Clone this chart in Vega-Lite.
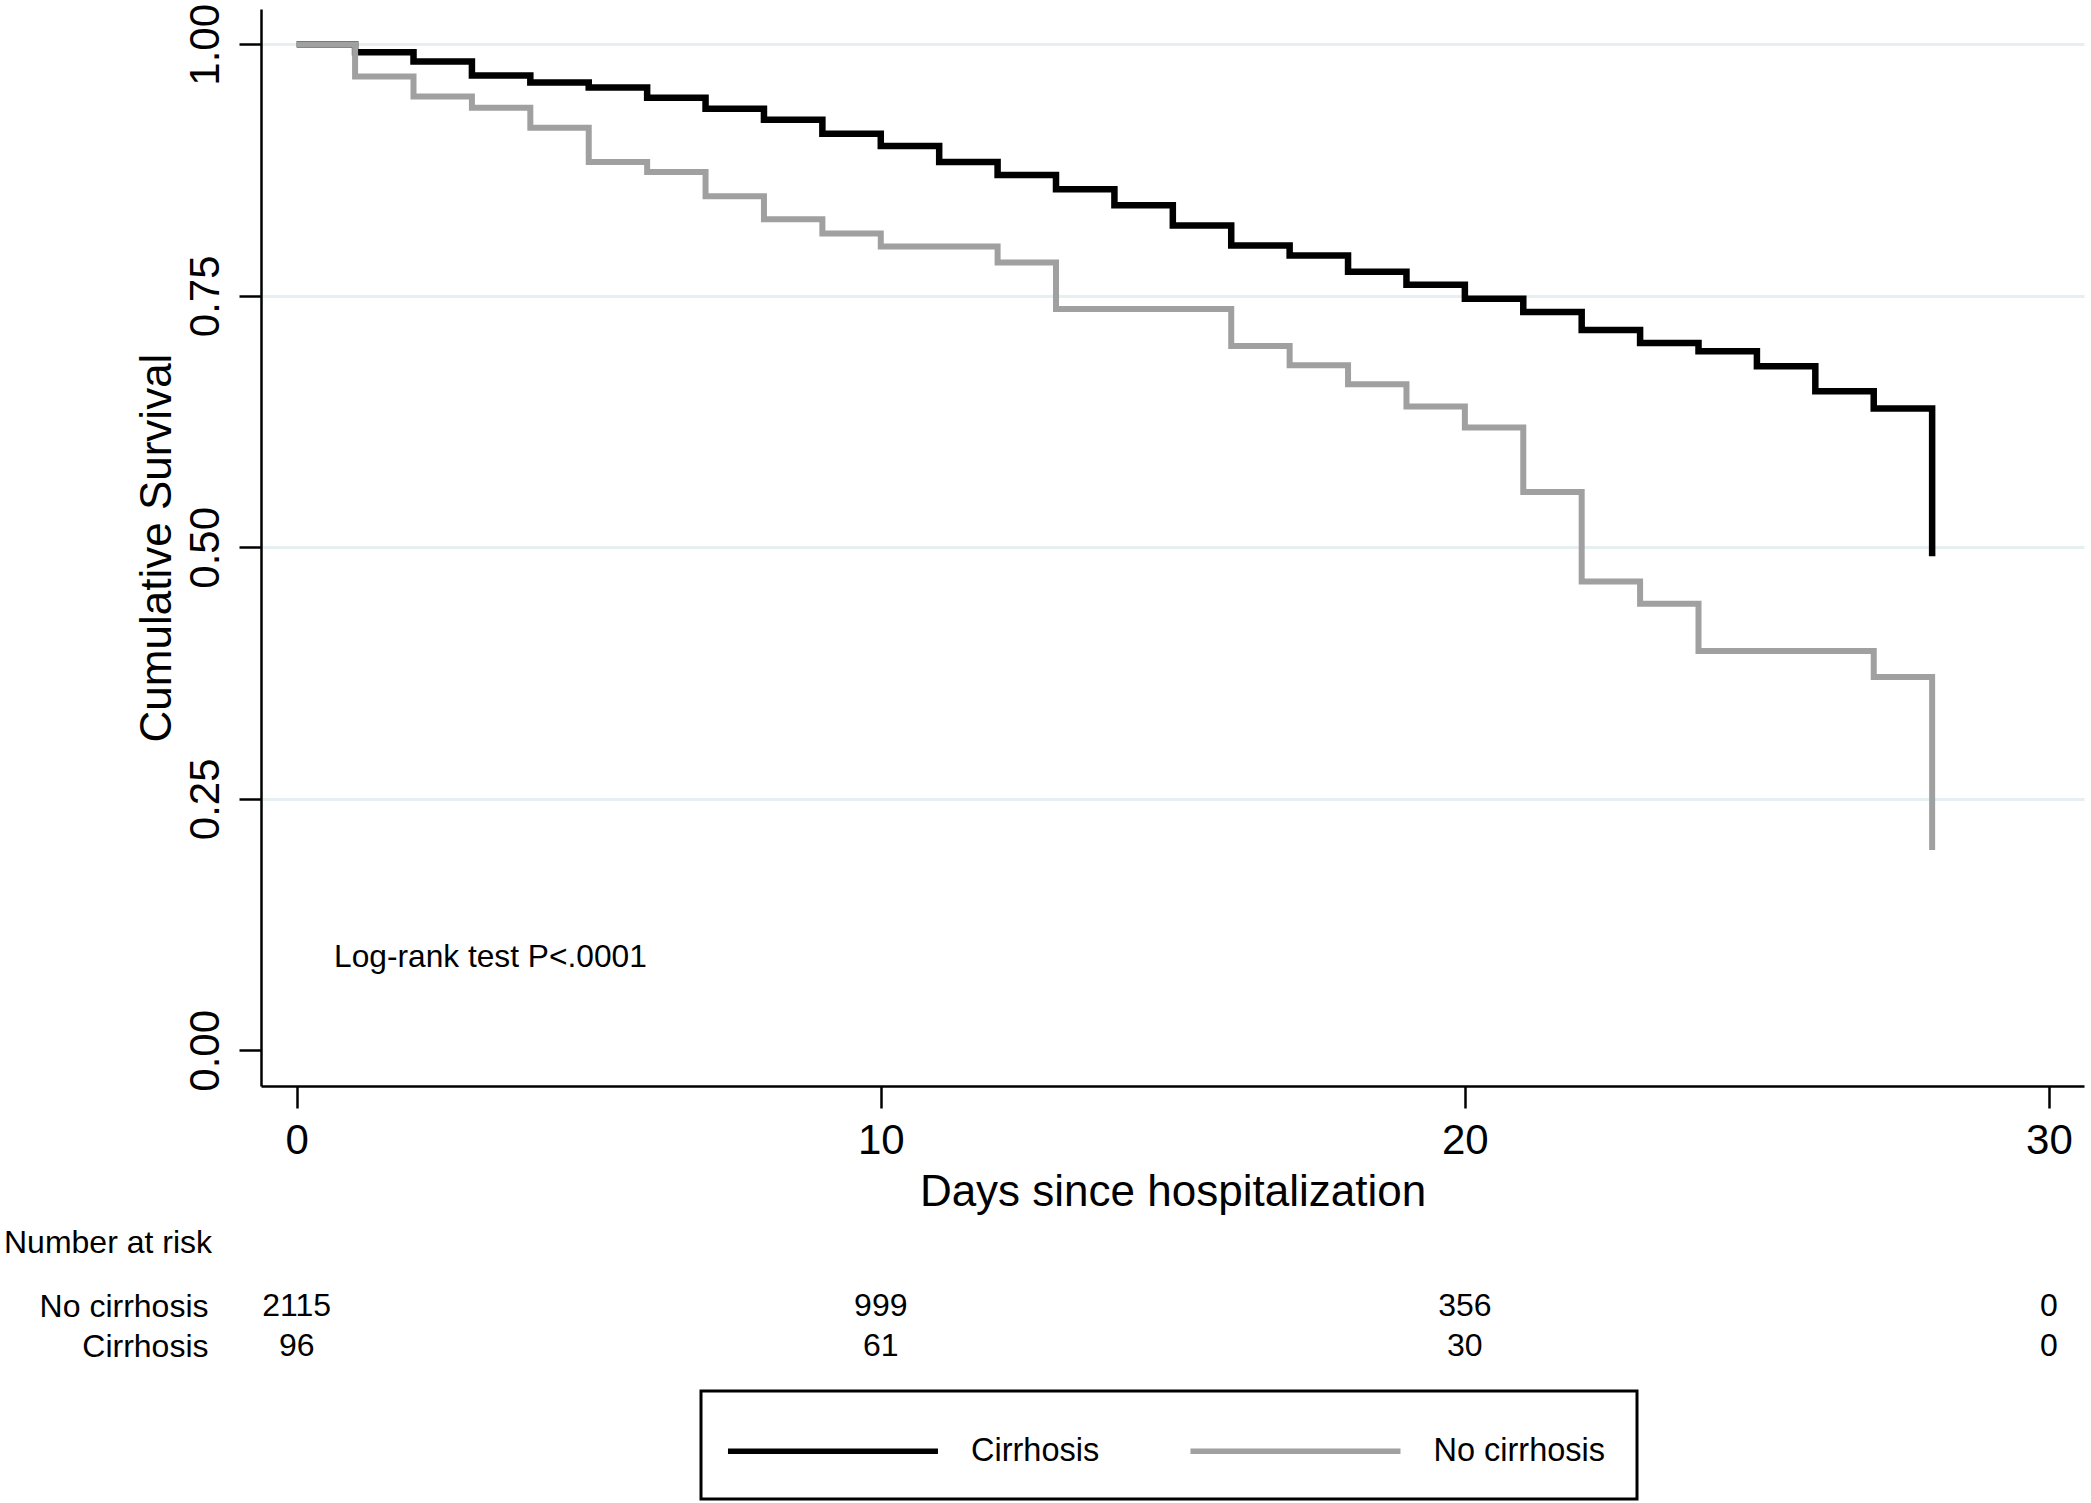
{
  "$schema": "https://vega.github.io/schema/vega-lite/v6.json",
  "autosize": {"type": "pad"},
  "padding": {"left": 4, "top": 3, "right": 6, "bottom": 6},
  "background": "white",
  "bounds": "flush",
  "spacing": 200,
  "config": {
    "font": "Liberation Sans",
    "view": {"stroke": null},
    "axis": {
      "domainColor": "black",
      "domainWidth": 2.5,
      "tickColor": "black",
      "tickWidth": 2.5,
      "labelColor": "black",
      "titleColor": "black",
      "titleFontWeight": "normal",
      "labelFont": "Liberation Sans",
      "titleFont": "Liberation Sans"
    },
    "legend": {"strokeWidth": 3}
  },
  "datasets": {
    "km": [
      {"day": 0, "group": "Cirrhosis", "survival": 1.0},
      {"day": 1, "group": "Cirrhosis", "survival": 0.992},
      {"day": 2, "group": "Cirrhosis", "survival": 0.983},
      {"day": 3, "group": "Cirrhosis", "survival": 0.969},
      {"day": 4, "group": "Cirrhosis", "survival": 0.962},
      {"day": 5, "group": "Cirrhosis", "survival": 0.957},
      {"day": 6, "group": "Cirrhosis", "survival": 0.947},
      {"day": 7, "group": "Cirrhosis", "survival": 0.936},
      {"day": 8, "group": "Cirrhosis", "survival": 0.925},
      {"day": 9, "group": "Cirrhosis", "survival": 0.911},
      {"day": 10, "group": "Cirrhosis", "survival": 0.899},
      {"day": 11, "group": "Cirrhosis", "survival": 0.883},
      {"day": 12, "group": "Cirrhosis", "survival": 0.870},
      {"day": 13, "group": "Cirrhosis", "survival": 0.856},
      {"day": 14, "group": "Cirrhosis", "survival": 0.840},
      {"day": 15, "group": "Cirrhosis", "survival": 0.820},
      {"day": 16, "group": "Cirrhosis", "survival": 0.800},
      {"day": 17, "group": "Cirrhosis", "survival": 0.790},
      {"day": 18, "group": "Cirrhosis", "survival": 0.774},
      {"day": 19, "group": "Cirrhosis", "survival": 0.761},
      {"day": 20, "group": "Cirrhosis", "survival": 0.747},
      {"day": 21, "group": "Cirrhosis", "survival": 0.734},
      {"day": 22, "group": "Cirrhosis", "survival": 0.716},
      {"day": 23, "group": "Cirrhosis", "survival": 0.703},
      {"day": 24, "group": "Cirrhosis", "survival": 0.695},
      {"day": 25, "group": "Cirrhosis", "survival": 0.680},
      {"day": 26, "group": "Cirrhosis", "survival": 0.655},
      {"day": 27, "group": "Cirrhosis", "survival": 0.638},
      {"day": 28, "group": "Cirrhosis", "survival": 0.491},
      {"day": 0, "group": "No cirrhosis", "survival": 1.0},
      {"day": 1, "group": "No cirrhosis", "survival": 0.968},
      {"day": 2, "group": "No cirrhosis", "survival": 0.948},
      {"day": 3, "group": "No cirrhosis", "survival": 0.937},
      {"day": 4, "group": "No cirrhosis", "survival": 0.917},
      {"day": 5, "group": "No cirrhosis", "survival": 0.883},
      {"day": 6, "group": "No cirrhosis", "survival": 0.873},
      {"day": 7, "group": "No cirrhosis", "survival": 0.849},
      {"day": 8, "group": "No cirrhosis", "survival": 0.826},
      {"day": 9, "group": "No cirrhosis", "survival": 0.812},
      {"day": 10, "group": "No cirrhosis", "survival": 0.799},
      {"day": 11, "group": "No cirrhosis", "survival": 0.799},
      {"day": 12, "group": "No cirrhosis", "survival": 0.783},
      {"day": 13, "group": "No cirrhosis", "survival": 0.737},
      {"day": 14, "group": "No cirrhosis", "survival": 0.737},
      {"day": 15, "group": "No cirrhosis", "survival": 0.737},
      {"day": 16, "group": "No cirrhosis", "survival": 0.700},
      {"day": 17, "group": "No cirrhosis", "survival": 0.681},
      {"day": 18, "group": "No cirrhosis", "survival": 0.662},
      {"day": 19, "group": "No cirrhosis", "survival": 0.640},
      {"day": 20, "group": "No cirrhosis", "survival": 0.619},
      {"day": 21, "group": "No cirrhosis", "survival": 0.555},
      {"day": 22, "group": "No cirrhosis", "survival": 0.466},
      {"day": 23, "group": "No cirrhosis", "survival": 0.444},
      {"day": 24, "group": "No cirrhosis", "survival": 0.397},
      {"day": 25, "group": "No cirrhosis", "survival": 0.397},
      {"day": 26, "group": "No cirrhosis", "survival": 0.397},
      {"day": 27, "group": "No cirrhosis", "survival": 0.371},
      {"day": 28, "group": "No cirrhosis", "survival": 0.199}
    ],
    "risk": [
      {"day": 0, "group": "No cirrhosis", "n": 2115},
      {"day": 10, "group": "No cirrhosis", "n": 999},
      {"day": 20, "group": "No cirrhosis", "n": 356},
      {"day": 30, "group": "No cirrhosis", "n": 0},
      {"day": 0, "group": "Cirrhosis", "n": 96},
      {"day": 10, "group": "Cirrhosis", "n": 61},
      {"day": 20, "group": "Cirrhosis", "n": 30},
      {"day": 30, "group": "Cirrhosis", "n": 0}
    ],
    "note": [
      {"label": "Log-rank test P<.0001"}
    ]
  },
  "vconcat": [
    {
      "width": 1823,
      "height": 1077,
      "layer": [
        {
          "data": {"name": "km"},
          "transform": [{"filter": "datum.group === 'Cirrhosis'"}],
          "mark": {"type": "line", "interpolate": "step-after", "strokeWidth": 6.5},
          "encoding": {
            "x": {
              "field": "day", "type": "quantitative",
              "scale": {"domain": [-0.611, 30.6], "nice": false, "zero": false},
              "axis": {
                "values": [0, 10, 20, 30], "format": "d", "title": "Days since hospitalization",
                "grid": false, "tickSize": 22, "labelPadding": 12, "titlePadding": 9,
                "labelFontSize": 42, "titleFontSize": 44
              }
            },
            "y": {
              "field": "survival", "type": "quantitative",
              "scale": {"domain": [-0.0355, 1.0351], "nice": false, "zero": false},
              "axis": {
                "values": [0, 0.25, 0.5, 0.75, 1], "format": ".2f",
                "title": "Cumulative Survival",
                "labelAngle": -90, "labelAlign": "center", "labelBaseline": "bottom",
                "tickSize": 22, "labelPadding": 12, "titlePadding": 5,
                "labelFontSize": 42, "titleFontSize": 44,
                "grid": true, "gridWidth": 3,
                "gridColor": {"condition": {"test": "datum.value === 0", "value": "transparent"}, "value": "#e6eff1"}
              }
            },
            "color": {
              "field": "group", "type": "nominal",
              "scale": {"domain": ["Cirrhosis", "No cirrhosis"], "range": ["#000000", "#a0a0a0"]},
              "legend": {
                "title": null, "orient": "none", "legendX": 440, "legendY": 1382,
                "direction": "horizontal", "columns": 2,
                "symbolType": "M-1.27,0H6.807", "symbolSize": 2704, "symbolStrokeWidth": 5.5,
                "labelFontSize": 32.5, "labelOffset": 181, "columnPadding": 78.5,
                "padding": 31, "strokeColor": "black", "fillColor": "white",
                "labelColor": "black", "labelFont": "Liberation Sans", "labelLimit": 400
              }
            }
          }
        },
        {
          "data": {"name": "km"},
          "transform": [{"filter": "datum.group === 'No cirrhosis'"}],
          "mark": {"type": "line", "interpolate": "step-after", "strokeWidth": 6},
          "encoding": {
            "x": {"field": "day", "type": "quantitative"},
            "y": {"field": "survival", "type": "quantitative"},
            "color": {"field": "group", "type": "nominal"}
          }
        },
        {
          "data": {"name": "note"},
          "mark": {"type": "text", "align": "left", "baseline": "alphabetic", "fontSize": 31.7, "color": "black"},
          "encoding": {
            "x": {"datum": 0.64, "type": "quantitative"},
            "y": {"datum": 0.083, "type": "quantitative"},
            "text": {"field": "label", "type": "nominal"}
          }
        }
      ]
    },
    {
      "width": 1823,
      "height": 80,
      "data": {"name": "risk"},
      "title": {
        "text": "Number at risk", "anchor": "start", "frame": "group",
        "dx": -257, "offset": 1, "baseline": "alphabetic",
        "fontSize": 32, "fontWeight": "normal", "color": "black", "font": "Liberation Sans"
      },
      "mark": {"type": "text", "fontSize": 32, "color": "black", "baseline": "middle", "align": "center"},
      "encoding": {
        "x": {
          "field": "day", "type": "quantitative",
          "scale": {"domain": [-0.611, 30.6], "nice": false, "zero": false},
          "axis": null
        },
        "y": {
          "field": "group", "type": "nominal",
          "sort": ["No cirrhosis", "Cirrhosis"],
          "scale": {"paddingInner": 0, "paddingOuter": 0},
          "axis": {
            "title": null, "ticks": false, "domain": false, "labelPadding": 53,
            "labelFontSize": 32, "labelColor": "black", "labelFont": "Liberation Sans"
          }
        },
        "text": {"field": "n", "type": "quantitative", "format": "d"}
      }
    }
  ]
}
